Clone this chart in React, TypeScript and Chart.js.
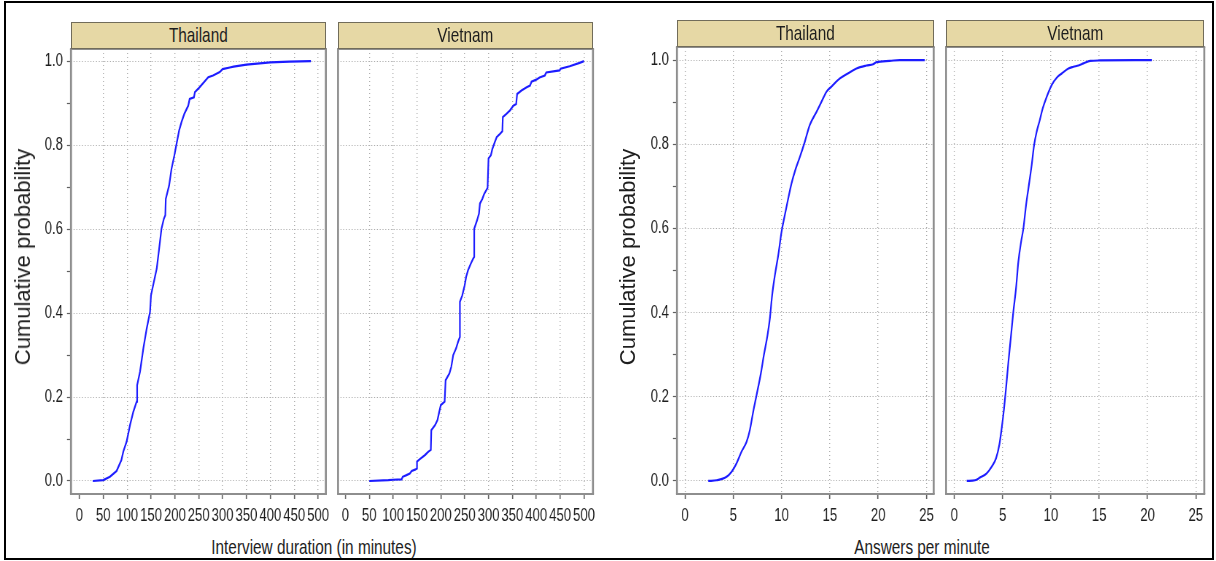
import React, { useEffect, useRef } from 'react';
import { Chart, registerables } from 'chart.js';

Chart.register(...registerables);

// ---------------- data ----------------
const TH_DUR_X = [28, 50, 64, 78, 88, 92, 99, 106, 113, 120, 121, 127, 134, 141, 148, 150, 156, 162, 167, 172, 177, 180, 181, 188, 193, 199, 203, 209, 214, 220, 228, 231, 240, 242, 252, 270, 280, 294, 300, 315, 323, 350, 400, 440, 485];
const TH_DUR_P = [0, 0.002, 0.01, 0.024, 0.05, 0.07, 0.094, 0.133, 0.165, 0.189, 0.228, 0.26, 0.316, 0.363, 0.403, 0.442, 0.474, 0.506, 0.553, 0.601, 0.625, 0.633, 0.672, 0.704, 0.744, 0.776, 0.8, 0.835, 0.855, 0.875, 0.894, 0.91, 0.914, 0.926, 0.938, 0.962, 0.966, 0.974, 0.981, 0.985, 0.987, 0.992, 0.997, 0.999, 1.0];

const VN_DUR_X = [50, 90, 100, 118, 120, 128, 135, 139, 146, 150, 150, 156, 167, 174, 179, 180, 188, 193, 196, 200, 208, 210, 218, 222, 226, 232, 236, 240, 240, 245, 250, 253, 257, 263, 268, 270, 270, 276, 280, 282, 287, 291, 298, 300, 305, 308, 313, 317, 324, 329, 330, 338, 345, 352, 358, 360, 369, 380, 387, 390, 400, 407, 418, 421, 449, 451, 470, 491, 500];
const VN_DUR_P = [0, 0.002, 0.003, 0.004, 0.01, 0.014, 0.018, 0.024, 0.027, 0.03, 0.046, 0.052, 0.062, 0.07, 0.074, 0.121, 0.133, 0.145, 0.161, 0.181, 0.189, 0.24, 0.256, 0.272, 0.3, 0.316, 0.331, 0.343, 0.427, 0.442, 0.466, 0.486, 0.502, 0.518, 0.53, 0.534, 0.601, 0.621, 0.637, 0.661, 0.672, 0.684, 0.698, 0.768, 0.776, 0.791, 0.807, 0.819, 0.827, 0.833, 0.867, 0.875, 0.883, 0.894, 0.898, 0.922, 0.93, 0.938, 0.942, 0.951, 0.956, 0.961, 0.966, 0.973, 0.978, 0.982, 0.988, 0.996, 1.0];

const TH_APM_X = [2.41, 3.28, 4.31, 4.83, 5.34, 5.86, 6.38, 6.72, 7.07, 7.41, 7.83, 8.17, 8.55, 8.79, 9.03, 9.31, 9.66, 10.0, 10.34, 10.69, 11.03, 11.48, 11.9, 12.41, 12.93, 13.62, 14.14, 14.66, 15.17, 15.86, 16.72, 17.76, 18.79, 19.48, 19.83, 21.2, 22.24, 24.83];
const TH_APM_P = [0, 0.0016, 0.01, 0.022, 0.042, 0.07, 0.093, 0.121, 0.165, 0.204, 0.252, 0.299, 0.347, 0.386, 0.442, 0.489, 0.537, 0.592, 0.632, 0.671, 0.707, 0.743, 0.77, 0.806, 0.846, 0.877, 0.901, 0.925, 0.937, 0.953, 0.966, 0.98, 0.987, 0.99, 0.995, 0.998, 1.0, 1.0];

const VN_APM_X = [1.28, 2.14, 2.66, 3.35, 3.87, 4.32, 4.66, 4.9, 5.15, 5.35, 5.6, 5.84, 6.11, 6.39, 6.63, 6.91, 7.15, 7.43, 7.67, 8.01, 8.26, 8.53, 8.81, 9.15, 9.57, 10.09, 10.6, 11.12, 11.81, 12.33, 12.85, 13.37, 14.06, 15.1, 20.45];
const VN_APM_P = [0, 0.0016, 0.008, 0.018, 0.034, 0.054, 0.086, 0.125, 0.173, 0.22, 0.283, 0.339, 0.402, 0.458, 0.521, 0.568, 0.6, 0.656, 0.695, 0.751, 0.798, 0.83, 0.854, 0.885, 0.913, 0.941, 0.958, 0.968, 0.98, 0.984, 0.987, 0.992, 0.998, 0.999, 1.0];

const DURATION_TICKS = [0, 50, 100, 150, 200, 250, 300, 350, 400, 450, 500];
const RATE_TICKS = [0, 5, 10, 15, 20, 25];
const PROB_TICKS = [0, 0.05, 0.1, 0.15, 0.2, 0.25, 0.3, 0.35, 0.4, 0.45, 0.5, 0.55, 0.6, 0.65, 0.7, 0.75, 0.8, 0.85, 0.9, 0.95, 1];
const PROB_MAJOR = [0, 0.2, 0.4, 0.6, 0.8, 1];
const PROB_LABELS = ['0.0', '0.2', '0.4', '0.6', '0.8', '1.0'];
const COUNTRIES = ['Thailand', 'Vietnam'];
const Y_TITLE = 'Cumulative probability';
const X_TITLES = ['Interview duration (in minutes)', 'Answers per minute'];

// ---------------- styling ----------------
const S = 0.73; // horizontal condensation of the original figure
const FONT = "'Liberation Sans', Arial, Helvetica, sans-serif";
const LINE_COLOR = '#1c1cff';
const GRID_COLOR = '#acacac';
const TICK_COLOR = '#606060';
const TEXT_COLOR = '#1e1e1e';
const FRAME_COLOR = '#8e8e8e';
const STRIP_BG = '#e6d8a5';
const STRIP_BORDER = '#716c5a';
const PAD_TOP = 20;
const X_AXIS_H = 36;

type PanelCfg = {
  id: string;
  title: string;
  xs: number[];
  ps: number[];
  ticks: number[];
  xMin: number;
  xMax: number;
  zeroGrid: boolean;
  box: { l: number; r: number; t: number; b: number };
  stripTop: number;
  yAxis: boolean;
  yMax: number;
  smooth: boolean;
};

const PANELS: PanelCfg[] = [
  { id: 'thDur', title: COUNTRIES[0], xs: TH_DUR_X, ps: TH_DUR_P, ticks: DURATION_TICKS, xMin: -17.6, xMax: 516.3, zeroGrid: false, box: { l: 71, r: 326, t: 49, b: 494 }, stripTop: 22, yAxis: true, yMax: 1.029, smooth: false },
  { id: 'vnDur', title: COUNTRIES[1], xs: VN_DUR_X, ps: VN_DUR_P, ticks: DURATION_TICKS, xMin: -15.5, xMax: 518.9, zeroGrid: false, box: { l: 338, r: 593, t: 49, b: 494 }, stripTop: 22, yAxis: false, yMax: 1.029, smooth: false },
  { id: 'thApm', title: COUNTRIES[0], xs: TH_APM_X, ps: TH_APM_P, ticks: RATE_TICKS, xMin: -0.83, xMax: 25.75, zeroGrid: true, box: { l: 677, r: 934, t: 47, b: 494 }, stripTop: 20, yAxis: true, yMax: 1.031, smooth: true },
  { id: 'vnApm', title: COUNTRIES[1], xs: VN_APM_X, ps: VN_APM_P, ticks: RATE_TICKS, xMin: -0.86, xMax: 25.88, zeroGrid: true, box: { l: 946, r: 1204, t: 47, b: 494 }, stripTop: 20, yAxis: false, yMax: 1.031, smooth: true },
];

const framePlugin = {
  id: 'panelFrame',
  afterDraw(chart: any) {
    const { ctx, chartArea } = chart;
    const { left, right, top, bottom } = chartArea;
    ctx.save();
    ctx.strokeStyle = FRAME_COLOR;
    ctx.lineWidth = 2;
    ctx.beginPath();
    ctx.moveTo(left - 1 / S, top);
    ctx.lineTo(right + 1 / S, top);
    ctx.moveTo(left - 1 / S, bottom);
    ctx.lineTo(right + 1 / S, bottom);
    ctx.stroke();
    ctx.lineWidth = 2 / S;
    ctx.beginPath();
    ctx.moveTo(left, top);
    ctx.lineTo(left, bottom);
    ctx.moveTo(right, top);
    ctx.lineTo(right, bottom);
    ctx.stroke();
    ctx.restore();
  },
};

const isMajor = (v: number) => PROB_MAJOR.some((m) => Math.abs(m - v) < 1e-6);

function Panel({ cfg }: { cfg: PanelCfg }) {
  const ref = useRef<HTMLCanvasElement | null>(null);
  const { box } = cfg;
  const plotW = box.r - box.l;
  const plotH = box.b - box.t;
  const leftA = cfg.yAxis ? 44 : 12;
  const rightA = 14;
  const wv = Math.ceil((plotW + leftA + rightA) / S);
  const hv = PAD_TOP + plotH + X_AXIS_H;
  const chartLeftV = leftA / S;
  const chartRightV = (leftA + plotW) / S;

  useEffect(() => {
    const yw = cfg.yAxis ? chartLeftV - 2 : 0;
    const padLeft = cfg.yAxis ? 2 : chartLeftV;
    const chart = new Chart(ref.current as HTMLCanvasElement, {
      type: 'scatter',
      data: {
        datasets: [
          {
            data: cfg.xs.map((x, i) => ({ x, y: cfg.ps[i] })),
            showLine: true,
            borderColor: LINE_COLOR,
            backgroundColor: LINE_COLOR,
            borderWidth: 2.2,
            pointRadius: 0,
            pointHoverRadius: 0,
            fill: false,
            tension: 0,
            cubicInterpolationMode: cfg.smooth ? 'monotone' : 'default',
          } as any,
        ],
      },
      options: {
        responsive: false,
        animation: false,
        devicePixelRatio: 1,
        events: [],
        layout: { padding: { left: padLeft, right: wv - chartRightV, top: PAD_TOP, bottom: 0 } },
        plugins: { legend: { display: false }, tooltip: { enabled: false }, title: { display: false } },
        scales: {
          x: {
            type: 'linear',
            position: 'bottom',
            min: cfg.xMin,
            max: cfg.xMax,
            afterBuildTicks: (s: any) => {
              s.ticks = cfg.ticks.map((v) => ({ value: v }));
            },
            afterFit: (s: any) => {
              s.height = X_AXIS_H;
            },
            ticks: {
              autoSkip: false,
              maxRotation: 0,
              minRotation: 0,
              padding: 6,
              color: TEXT_COLOR,
              font: { family: FONT, size: 18 },
              callback: (v: any) => String(v),
            },
            grid: {
              color: (c: any) =>
                !cfg.zeroGrid && c.tick && Math.abs(c.tick.value) < 1e-9 ? 'rgba(0,0,0,0)' : GRID_COLOR,
              lineWidth: 1 / S,
              drawTicks: true,
              tickLength: 5,
              tickColor: TICK_COLOR,
              tickWidth: 1.2 / S,
            },
            border: { display: false, dash: [1, 3] },
          } as any,
          y: {
            type: 'linear',
            position: 'left',
            min: -0.031,
            max: cfg.yMax,
            afterBuildTicks: (s: any) => {
              s.ticks = PROB_TICKS.map((v) => ({ value: v }));
            },
            afterFit: (s: any) => {
              s.width = yw;
            },
            ticks: {
              display: cfg.yAxis,
              padding: 4 / S,
              color: TEXT_COLOR,
              font: { family: FONT, size: 18 },
              callback: (v: any) => {
                const i = PROB_MAJOR.findIndex((m) => Math.abs(m - v) < 1e-6);
                return i >= 0 ? PROB_LABELS[i] : '';
              },
            },
            grid: {
              color: (c: any) => (c.tick && isMajor(c.tick.value) ? GRID_COLOR : 'rgba(0,0,0,0)'),
              lineWidth: 1,
              drawTicks: cfg.yAxis,
              tickLength: 4 / S,
              tickColor: TICK_COLOR,
              tickWidth: 1.2,
            },
            border: { display: false, dash: [1 / S, 1.8 / S] },
          } as any,
        },
      },
      plugins: [framePlugin],
    });
    return () => chart.destroy();
  }, []);

  return (
    <canvas
      ref={ref}
      width={wv}
      height={hv}
      style={{
        position: 'absolute',
        left: box.l - leftA,
        top: box.t - PAD_TOP,
        width: wv * S,
        height: hv,
        display: 'block',
      }}
    />
  );
}

function Strip({ cfg }: { cfg: PanelCfg }) {
  const { box } = cfg;
  return (
    <div
      style={{
        position: 'absolute',
        left: box.l,
        top: cfg.stripTop,
        width: box.r - box.l,
        height: box.t - cfg.stripTop,
        boxSizing: 'border-box',
        background: STRIP_BG,
        border: `1.5px solid ${STRIP_BORDER}`,
        display: 'flex',
        alignItems: 'center',
        justifyContent: 'center',
        overflow: 'hidden',
      }}
    >
      <span
        style={{
          display: 'inline-block',
          fontFamily: FONT,
          fontSize: 21,
          color: TEXT_COLOR,
          transform: `scaleX(${S})`,
          whiteSpace: 'nowrap',
          lineHeight: '21px',
          marginTop: -2,
        }}
      >
        {cfg.title}
      </span>
    </div>
  );
}

function YTitle({ cx, cy }: { cx: number; cy: number }) {
  return (
    <div
      style={{
        position: 'absolute',
        left: cx,
        top: cy,
        transform: 'translate(-50%, -50%) rotate(-90deg)',
        fontFamily: FONT,
        fontSize: 22,
        color: TEXT_COLOR,
        whiteSpace: 'nowrap',
        lineHeight: '24px',
      }}
    >
      {Y_TITLE}
    </div>
  );
}

function XTitle({ cx, cy, text }: { cx: number; cy: number; text: string }) {
  return (
    <div
      style={{
        position: 'absolute',
        left: cx,
        top: cy,
        transform: `translate(-50%, -50%) scaleX(${S})`,
        fontFamily: FONT,
        fontSize: 21,
        color: TEXT_COLOR,
        whiteSpace: 'nowrap',
        lineHeight: '24px',
      }}
    >
      {text}
    </div>
  );
}

export default function App() {
  return (
    <div
      style={{
        position: 'fixed',
        left: 0,
        top: 0,
        width: 1216,
        height: 561,
        background: '#ffffff',
        overflow: 'hidden',
      }}
    >
      {PANELS.map((p) => (
        <Panel key={p.id} cfg={p} />
      ))}
      {PANELS.map((p) => (
        <Strip key={p.id + '-strip'} cfg={p} />
      ))}
      <YTitle cx={23} cy={257} />
      <YTitle cx={628} cy={257} />
      <XTitle cx={314} cy={547} text={X_TITLES[0]} />
      <XTitle cx={922} cy={547} text={X_TITLES[1]} />
      <div
        style={{
          position: 'absolute',
          left: 4,
          top: 1,
          width: 1210,
          height: 559,
          border: '2px solid #000',
          boxSizing: 'border-box',
          pointerEvents: 'none',
        }}
      />
    </div>
  );
}
